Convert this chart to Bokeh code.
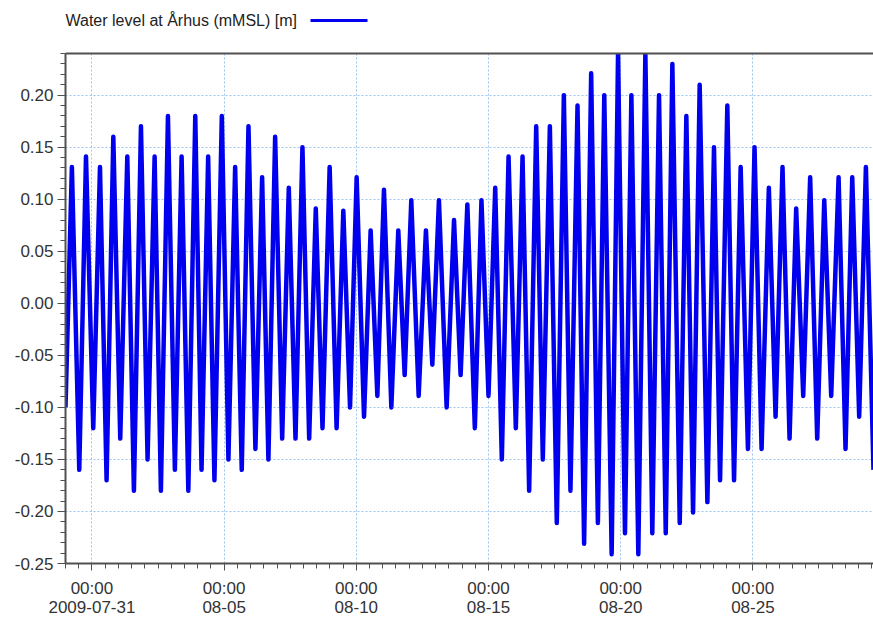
from datetime import datetime, timedelta

from bokeh.plotting import figure
from bokeh.models import Range1d, FixedTicker, LinearAxis, NumeralTickFormatter, ColumnDataSource
from bokeh.embed import file_html
from bokeh.resources import INLINE
from bokeh.core.properties import value

# ---------------- data ----------------
series_name = "Water level at \u00c5rhus (mMSL) [m]"

# time of each turning point, hours relative to 2009-07-31 00:00
hours_from_jul31 = [
    -24.0, -18.2, -11.5, -5.4, 1.2, 7.3, 13.3, 19.4, 25.7, 32.1,
    38.1, 44.5, 50.5, 56.9, 62.6, 69.0, 75.3, 81.4, 87.5, 93.8,
    99.5, 105.5, 111.2, 117.9, 123.9, 130.0, 136.0, 142.1, 148.4, 154.5,
    160.2, 166.3, 172.7, 178.7, 184.8, 191.1, 197.2, 203.2, 209.3, 215.8,
    222.1, 228.2, 234.3, 240.3, 247.0, 253.0, 259.1, 265.1, 271.8, 278.1,
    283.9, 289.9, 296.6, 303.2, 309.0, 315.0, 322.0, 328.7, 334.7, 340.8,
    347.6, 353.6, 360.0, 366.1, 372.1, 378.2, 384.8, 390.9, 396.9, 403.3,
    409.3, 415.7, 422.0, 428.4, 434.4, 440.8, 446.8, 453.2, 459.3, 465.1,
    471.8, 477.6, 483.9, 489.7, 496.0, 502.4, 508.7, 514.8, 520.9, 526.9,
    533.6, 539.6, 545.7, 551.7, 558.7, 564.7, 570.2, 576.8, 582.9, 588.9,
    595.5, 601.5, 607.9, 614.5, 620.6, 626.9, 633.3, 639.3, 645.7, 652.0,
    658.4, 664.8, 671.1, 677.8, 684.1, 690.2, 696.5, 702.6, 709.5,
]
water_level_m = [
    -0.100, 0.131, -0.160, 0.141, -0.120, 0.131, -0.170, 0.160, -0.130, 0.141,
    -0.180, 0.170, -0.150, 0.141, -0.180, 0.180, -0.160, 0.141, -0.180, 0.180,
    -0.160, 0.141, -0.170, 0.180, -0.150, 0.131, -0.160, 0.170, -0.140, 0.121,
    -0.150, 0.160, -0.130, 0.111, -0.130, 0.150, -0.130, 0.091, -0.120, 0.131,
    -0.120, 0.089, -0.100, 0.121, -0.109, 0.070, -0.089, 0.109, -0.100, 0.070,
    -0.069, 0.099, -0.089, 0.070, -0.059, 0.099, -0.100, 0.080, -0.069, 0.095,
    -0.120, 0.099, -0.089, 0.111, -0.150, 0.141, -0.120, 0.141, -0.180, 0.170,
    -0.150, 0.170, -0.211, 0.200, -0.180, 0.190, -0.231, 0.221, -0.211, 0.200,
    -0.241, 0.240, -0.221, 0.200, -0.241, 0.240, -0.221, 0.200, -0.221, 0.230,
    -0.211, 0.180, -0.201, 0.210, -0.191, 0.150, -0.170, 0.190, -0.170, 0.131,
    -0.140, 0.150, -0.140, 0.111, -0.109, 0.131, -0.130, 0.091, -0.089, 0.121,
    -0.130, 0.099, -0.089, 0.121, -0.140, 0.121, -0.109, 0.131, -0.160,
]

x_tick_dates = ["2009-07-31", "2009-08-05", "2009-08-10", "2009-08-15", "2009-08-20", "2009-08-25"]
x_tick_labels = ["00:00\n2009-07-31", "00:00\n08-05", "00:00\n08-10",
                 "00:00\n08-15", "00:00\n08-20", "00:00\n08-25"]
y_ticks = [-0.25, -0.20, -0.15, -0.10, -0.05, 0.00, 0.05, 0.10, 0.15, 0.20]
y_minor_ticks = [round(-0.25 + 0.01 * i, 2) for i in range(50)]

x_start = datetime(2009, 7, 30, 0, 0)
x_end = datetime(2009, 8, 29, 13, 30)

# ---------------- helpers ----------------
EPOCH = datetime(1970, 1, 1)


def ms(dt):
    return (dt - EPOCH).total_seconds() * 1000.0


base = datetime(2009, 7, 31)
times = [base + timedelta(hours=h) for h in hours_from_jul31]
src = ColumnDataSource(dict(t=times, level=water_level_m))

major_x = [ms(datetime.strptime(d, "%Y-%m-%d")) for d in x_tick_dates]
minor_x = []
cur = x_start
while cur <= x_end:
    minor_x.append(ms(cur))
    cur += timedelta(hours=12)

FONT = "Liberation Sans"
LINE_COLOR = "#0000ee"
FRAME_COLOR = "#505050"
TEXT_COLOR = "#333333"

# ---------------- legend strip (its own root, pixel coordinates) ----------------
leg = figure(width=873, height=45, x_range=Range1d(0, 873), y_range=Range1d(0, 45),
             output_backend="svg", toolbar_location=None,
             x_axis_location=None, y_axis_location=None,
             min_border=0, min_border_left=0, min_border_right=0,
             min_border_top=0, min_border_bottom=0)
leg.outline_line_color = None
leg.grid.visible = False
leg.text(x=[65], y=[25], text=[series_name], text_font=value(FONT),
         text_font_size="16px", text_baseline="middle", text_color="#222222")
leg.line(x=[310, 367], y=[25, 25], line_color=LINE_COLOR, line_width=3)

# ---------------- main chart ----------------
p = figure(width=873, height=574, x_axis_type="datetime",
           x_range=Range1d(x_start, x_end), y_range=Range1d(-0.25, 0.24),
           output_backend="svg", toolbar_location=None,
           min_border_left=65, min_border_right=0, min_border_top=8, min_border_bottom=50)
p.outline_line_color = None

p.line("t", "level", source=src, line_color=LINE_COLOR, line_width=4.5, line_join="round")

xa = p.xaxis[0]
xa.ticker = FixedTicker(ticks=major_x, minor_ticks=minor_x)
xa.major_label_overrides = {t: lab for t, lab in zip(major_x, x_tick_labels)}
xa.major_label_text_font = FONT
xa.major_label_text_font_size = "17px"
xa.major_label_text_color = TEXT_COLOR
xa.major_label_text_line_height = 1.0
xa.major_label_standoff = 8
xa.axis_label_standoff = 0
xa.major_tick_out = 7
xa.major_tick_in = 0
xa.minor_tick_out = 5
xa.minor_tick_in = 0
xa.axis_line_color = FRAME_COLOR
xa.axis_line_width = 2
xa.major_tick_line_color = FRAME_COLOR
xa.minor_tick_line_color = FRAME_COLOR

ya = p.yaxis[0]
ya.ticker = FixedTicker(ticks=y_ticks, minor_ticks=y_minor_ticks)
ya.formatter = NumeralTickFormatter(format="0.00")
ya.major_label_text_font = FONT
ya.major_label_text_font_size = "17px"
ya.major_label_text_color = TEXT_COLOR
ya.major_label_standoff = 4
ya.axis_label_standoff = 0
ya.major_tick_out = 8
ya.major_tick_in = 0
ya.minor_tick_out = 5
ya.minor_tick_in = 0
ya.axis_line_color = FRAME_COLOR
ya.axis_line_width = 2
ya.major_tick_line_color = FRAME_COLOR
ya.minor_tick_line_color = FRAME_COLOR

top = LinearAxis(ticker=FixedTicker(ticks=[]), major_label_text_font_size="0px",
                 axis_label_standoff=0, major_label_standoff=0,
                 axis_line_color=FRAME_COLOR, axis_line_width=2,
                 major_tick_line_color=None, minor_tick_line_color=None)
p.add_layout(top, "above")

p.xgrid.ticker = FixedTicker(ticks=major_x)
p.ygrid.ticker = FixedTicker(ticks=y_ticks)
p.grid.grid_line_color = "#9cc4ec"
p.grid.grid_line_dash = "2 2"
p.grid.grid_line_width = 1

open("out.html", "w").write(file_html([leg, p], INLINE))
